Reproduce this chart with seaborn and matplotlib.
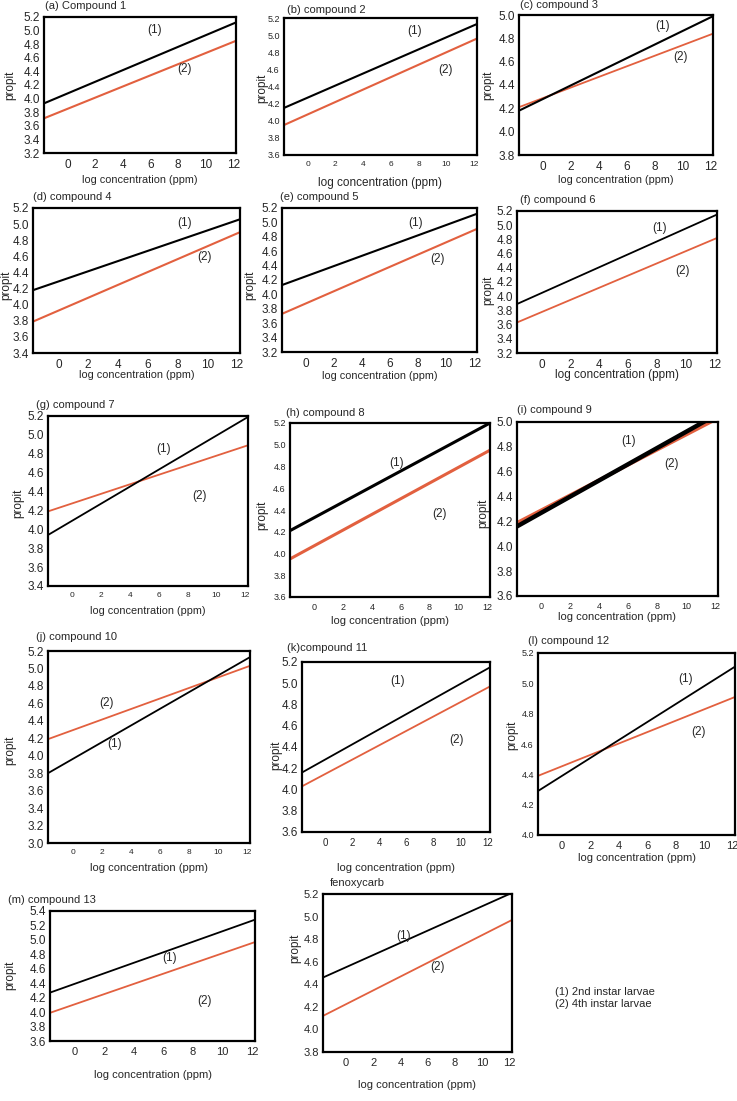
import numpy as np
import pandas as pd
import matplotlib
matplotlib.use("Agg")
import matplotlib.pyplot as plt
import seaborn as sns

# data
titles = ["(a) Compound 1", "(b) compound 2", "(c) compound 3",
          "(d) compound 4", "(e) compound 5", "(f) compound 6",
          "(g) compound 7", "(h) compound 8", "(i) compound 9",
          "(j) compound 10", "(k)compound 11", "(l) compound 12",
          "(m) compound 13", "fenoxycarb"]
x_ends = [-1.7, 12.2]
x_ticks = [0, 2, 4, 6, 8, 10, 12]
y_lo = [3.2, 3.6, 3.8, 3.4, 3.2, 3.2, 3.4, 3.6, 3.6, 3.0, 3.6, 4.0, 3.6, 3.8]
y_hi = [5.2, 5.2, 5.0, 5.2, 5.2, 5.2, 5.2, 5.2, 5.0, 5.2, 5.2, 5.2, 5.4, 5.2]
# (1) 2nd instar larvae
instar2_start = [3.93, 4.15, 4.18, 4.18, 4.13, 3.89, 3.94, 4.21, 4.16, 3.80, 4.16, 4.29, 4.27, 4.46]
instar2_end = [5.12, 5.13, 4.99, 5.06, 5.12, 5.15, 5.19, 5.20, 5.065, 5.13, 5.15, 5.11, 5.28, 5.21]
# (2) 4th instar larvae
instar4_start = [3.71, 3.95, 4.21, 3.79, 3.73, 3.63, 4.19, 3.95, 4.19, 4.19, 4.03, 4.39, 3.99, 4.12]
instar4_end = [4.85, 4.96, 4.84, 4.90, 4.91, 4.82, 4.89, 4.95, 5.03, 5.03, 4.97, 4.91, 4.97, 4.97]

# layout (pixels): axes box left, top, right, bottom
boxes = [(44, 17, 236, 153), (284, 18, 477, 155), (519, 15, 713, 155),
         (33, 208, 240, 353), (282, 208, 477, 352), (517, 211, 717, 353),
         (48, 416, 248, 586), (290, 423, 490, 597), (517, 422, 718, 596),
         (48, 651, 250, 843), (302, 662, 490, 832), (538, 653, 735, 835),
         (50, 911, 255, 1041), (323, 894, 512, 1052)]
title_pos = [(45, 6), (287, 10), (520, 5), (33, 197), (280, 197), (520, 200),
             (36, 405), (286, 413), (517, 410), (36, 637), (287, 648), (528, 641),
             (8, 900), (330, 883)]
xlabel_y = [180, 183, 180, 375, 376, 375, 611, 621, 617, 868, 868, 858, 1075, 1085]
ylabel_pos = [(10, 85), (262, 88), (488, 85), (6, 285), (250, 285), (488, 290),
              (18, 503), (262, 515), (483, 513), (10, 750), (276, 755), (512, 735),
              (10, 975), (295, 948)]
lab1 = [(6.3, 5.01), (7.7, 5.05), (8.6, 4.91), (8.5, 5.01), (7.8, 4.99), (8.2, 4.96),
        (6.3, 4.85), (5.7, 4.83), (6.0, 4.85), (2.9, 4.13), (5.4, 5.02), (8.7, 5.03),
        (6.4, 4.75), (4.2, 4.83)]
lab2 = [(8.5, 4.44), (9.9, 4.59), (9.9, 4.64), (9.8, 4.59), (9.4, 4.49), (9.8, 4.35),
        (8.8, 4.35), (8.7, 4.36), (9.0, 4.66), (2.3, 4.60), (9.7, 4.47), (9.6, 4.68),
        (8.8, 4.15), (6.7, 4.55)]
xtick_fs = [8.5, 6, 8.5, 8.5, 8.5, 8.5, 6, 6.5, 6.5, 6, 7, 8, 8, 8]
ytick_fs = [8.5, 6.5, 8.5, 8.5, 8.5, 8.5, 8.5, 6.5, 8.5, 8.5, 8.5, 6.5, 8.5, 8]
xlabel_fs = [7.8, 8.5, 7.8, 7.8, 7.8, 8.5, 7.8, 8, 8, 8, 8, 8, 8, 8]
lw_black = [1.5, 1.5, 1.5, 1.5, 1.5, 1.3, 1.3, 2.2, 3.2, 1.3, 1.3, 1.3, 1.3, 1.3]
lw_orange = [1.5, 1.5, 1.3, 1.5, 1.5, 1.3, 1.3, 2.2, 2.4, 1.3, 1.3, 1.3, 1.3, 1.3]

BLACK = "#000000"
ORANGE = "#e2603f"

sns.set_style("white")
plt.rcParams["font.family"] = ["Liberation Sans", "DejaVu Sans"]

W, H = 737, 1101
fig = plt.figure(figsize=(W / 100, H / 100), dpi=100)


def box(l, t, r, b):
    return [l / W, 1 - b / H, (r - l) / W, (b - t) / H]


for i in range(len(titles)):
    ax = fig.add_axes(box(*boxes[i]))

    df1 = pd.DataFrame({"conc": x_ends, "propit": [instar2_start[i], instar2_end[i]]})
    df2 = pd.DataFrame({"conc": x_ends, "propit": [instar4_start[i], instar4_end[i]]})
    sns.lineplot(data=df2, x="conc", y="propit", color=ORANGE, linewidth=lw_orange[i], ax=ax)
    sns.lineplot(data=df1, x="conc", y="propit", color=BLACK, linewidth=lw_black[i], ax=ax)

    ax.set_xlim(x_ends[0], x_ends[1])
    ax.set_ylim(y_lo[i], y_hi[i])
    ax.set_xticks(x_ticks)
    yt = np.round(np.arange(y_lo[i], y_hi[i] + 0.01, 0.2), 1)
    ax.set_yticks(yt)
    ax.set_yticklabels(["%.1f" % v for v in yt])
    ax.tick_params(axis="x", length=0, pad=4, labelsize=xtick_fs[i])
    ax.tick_params(axis="y", length=0, pad=3, labelsize=ytick_fs[i])
    ax.set_xlabel("")
    ax.set_ylabel("")
    for sp in ax.spines.values():
        sp.set_visible(True)
        sp.set_color("black")
        sp.set_linewidth(1.6)

    ax.text(lab1[i][0], lab1[i][1], "(1)", fontsize=8.5, ha="center", va="center")
    ax.text(lab2[i][0], lab2[i][1], "(2)", fontsize=8.5, ha="center", va="center")

    fig.text(title_pos[i][0] / W, 1 - title_pos[i][1] / H, titles[i],
             fontsize=8, ha="left", va="center")
    cx = (boxes[i][0] + boxes[i][2]) / 2
    fig.text(cx / W, 1 - xlabel_y[i] / H, "log concentration (ppm)",
             fontsize=xlabel_fs[i], ha="center", va="center")
    fig.text(ylabel_pos[i][0] / W, 1 - ylabel_pos[i][1] / H, "propit",
             fontsize=8.5, ha="center", va="center", rotation=90)

fig.text(555 / W, 1 - 992 / H, "(1) 2nd instar larvae", fontsize=8, ha="left", va="center")
fig.text(555 / W, 1 - 1004 / H, "(2) 4th instar larvae", fontsize=8, ha="left", va="center")

fig.savefig("out.png", dpi=100)
